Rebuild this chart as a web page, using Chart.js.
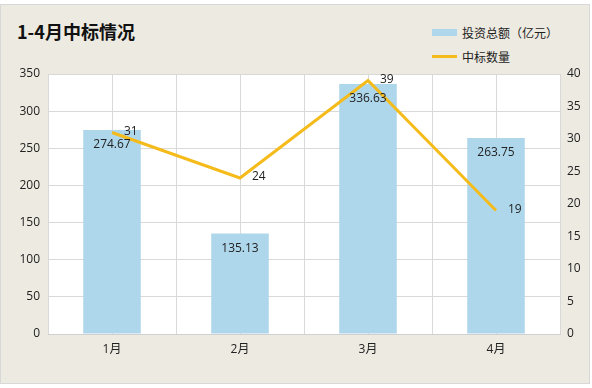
<!DOCTYPE html>
<html>
<head>
<meta charset="utf-8">
<script src="https://cdn.jsdelivr.net/npm/chart.js@4.4.1/dist/chart.umd.min.js"></script>
<style>
  body { margin: 0; background: #fff; width: 592px; height: 388px; overflow: hidden; position: relative; }
  #box {
    position: absolute; left: 0; top: 4px; width: 588px; height: 378px;
    border: 1px solid #d8d8d8; background: #edeae1;
  }
  #title {
    position: absolute; left: 17px; top: 18px;
    font: bold 18px "Noto Sans CJK SC", sans-serif; color: #111;
  }
  #legend { position: absolute; left: 432px; top: 20px; font: 12px "Noto Sans CJK SC", sans-serif; color: #222; }
  .item { height: 24px; display: flex; align-items: center; }
  .sw { width: 25px; margin-right: 5px; }
  canvas { position: absolute; left: 0; top: 0; }
</style>
</head>
<body>
<div id="box"></div>
<div id="title">1-4月中标情况</div>
<div id="legend"></div>
<canvas id="chart" width="592" height="388"></canvas>
<script>
// 数据
const months = ['1月', '2月', '3月', '4月'];
const investTotal = [274.67, 135.13, 336.63, 263.75]; // 投资总额（亿元）
const bidCount = [31, 24, 39, 19]; // 中标数量

const barColor = '#afd7ec';
const lineColor = '#f4bb1b';
const fontFamily = "'Open Sans', 'Noto Sans CJK SC', sans-serif";

// 绘图区背景 + 类别中心竖线
const plotBgPlugin = {
  id: 'plotBg',
  beforeDraw(chart) {
    const { ctx, chartArea: a } = chart;
    ctx.save();
    ctx.fillStyle = '#fff';
    ctx.fillRect(a.left, a.top, a.right - a.left, a.bottom - a.top);
    ctx.restore();
  },
  beforeDatasetsDraw(chart) {
    const { ctx, chartArea: a, scales } = chart;
    ctx.save();
    ctx.strokeStyle = '#d9d9d9';
    ctx.lineWidth = 1;
    months.forEach((m, i) => {
      const x = Math.round(scales.x.getPixelForValue(i)) + 0.5;
      ctx.beginPath();
      ctx.moveTo(x, a.top);
      ctx.lineTo(x, a.bottom);
      ctx.stroke();
    });
    ctx.restore();
  }
};

// 数值标签
const valueLabelPlugin = {
  id: 'valueLabels',
  afterDatasetsDraw(chart) {
    const ctx = chart.ctx;
    ctx.save();
    ctx.font = '12px ' + fontFamily;
    ctx.fillStyle = '#222';
    ctx.textBaseline = 'middle';
    chart.getDatasetMeta(0).data.forEach((bar, i) => {
      ctx.textAlign = 'center';
      ctx.fillText(investTotal[i].toFixed(2), bar.x, bar.y + 15);
    });
    chart.getDatasetMeta(1).data.forEach((pt, i) => {
      ctx.textAlign = 'left';
      ctx.fillText(String(bidCount[i]), pt.x + 12, pt.y - 1);
    });
    ctx.restore();
  }
};

const chart = new Chart(document.getElementById('chart').getContext('2d'), {
  data: {
    labels: months,
    datasets: [
      {
        type: 'bar',
        label: '投资总额（亿元）',
        data: investTotal,
        backgroundColor: barColor,
        yAxisID: 'y',
        order: 2,
        barPercentage: 0.45,
        categoryPercentage: 1
      },
      {
        type: 'line',
        label: '中标数量',
        data: bidCount,
        borderColor: lineColor,
        backgroundColor: lineColor,
        borderWidth: 3,
        pointRadius: 0,
        tension: 0,
        yAxisID: 'y1',
        order: 1
      }
    ]
  },
  options: {
    responsive: false,
    animation: false,
    layout: { padding: { top: 74, left: 0, right: 0, bottom: 0 } },
    plugins: {
      legend: { display: false },
      tooltip: { enabled: false }
    },
    scales: {
      x: {
        grid: { color: '#d9d9d9', offset: true, drawTicks: false },
        border: { color: '#d0d0d0' },
        ticks: { color: '#222', font: { family: fontFamily, size: 12 }, padding: 8 },
        afterFit(scale) { scale.height = 54; }
      },
      y: {
        position: 'left',
        min: 0, max: 350,
        ticks: { stepSize: 50, color: '#222', font: { family: fontFamily, size: 12 }, padding: 8 },
        grid: { color: '#d9d9d9', drawTicks: false },
        border: { display: false },
        afterFit(scale) { scale.width = 48; }
      },
      y1: {
        position: 'right',
        min: 0, max: 40,
        ticks: { stepSize: 5, color: '#222', font: { family: fontFamily, size: 12 }, padding: 7 },
        grid: { display: false, drawTicks: false },
        border: { display: false },
        afterFit(scale) { scale.width = 32; }
      }
    }
  },
  plugins: [plotBgPlugin, valueLabelPlugin]
});

// 图例（HTML）
const legendEl = document.getElementById('legend');
chart.data.datasets.forEach(ds => {
  const item = document.createElement('div');
  item.className = 'item';
  const sw = document.createElement('span');
  sw.className = 'sw';
  if (ds.type === 'bar') {
    sw.style.height = '7px';
    sw.style.background = ds.backgroundColor;
  } else {
    sw.style.height = '3px';
    sw.style.background = ds.borderColor;
  }
  const txt = document.createElement('span');
  txt.textContent = ds.label;
  item.appendChild(sw);
  item.appendChild(txt);
  legendEl.appendChild(item);
});
</script>
</body>
</html>
